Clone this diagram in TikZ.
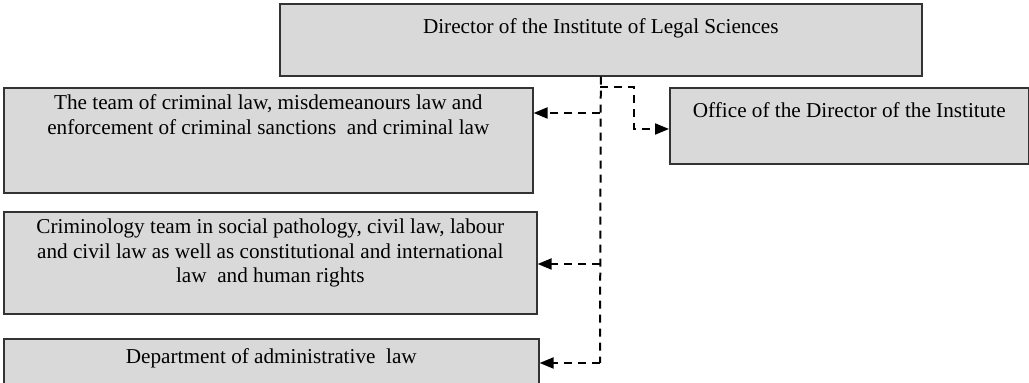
\documentclass[tikz,border=0pt]{standalone}
\usepackage{fontspec}
\setmainfont{Liberation Serif}
\usetikzlibrary{positioning,arrows.meta}
\definecolor{boxgray}{HTML}{D9D9D9}

\tikzset{
  box/.style={draw=black!80, line width=0.8pt, fill=boxgray, inner sep=0pt, anchor=north west},
  txt/.style={align=center, inner sep=0pt, font=\fontsize{10.6}{12.3}\selectfont},
  link/.style={draw, line width=1pt, dash pattern=on 4pt off 3pt},
  arr/.style={link, -{Triangle[length=7pt,width=5.5pt]}}
}

\begin{document}
\begin{tikzpicture}[x=0.5pt, y=-0.5pt]
    \useasboundingbox (0,0) rectangle (1029,383);

    \node[box, minimum width=321pt, minimum height=36pt] (dir) at (279, 3) {};
    \node[box, minimum width=264.5pt, minimum height=52.5pt] (crim) at (3, 87) {};
    \node[box, minimum width=179.5pt, minimum height=38pt] (off) at (669, 87) {};
    \node[box, minimum width=266.5pt, minimum height=51pt] (crim2) at (3, 211) {};
    \node[box, minimum width=267.5pt, minimum height=30pt] (adm) at (3, 338) {};

    \node[txt, below=7.8pt of dir.north] (dirt) {Director of the Institute of Legal Sciences};
    \node[txt, below=3.8pt of crim.north] (crimt) {The team of criminal law, misdemeanours law and\\enforcement of criminal sanctions~ and criminal law};
    \node[txt, below=7.8pt of off.north] (offt) {Office of the Director of the Institute};
    \node[txt, below=3.8pt of crim2.north] (crim2t) {Criminology team in social pathology, civil law, labour\\and civil law as well as constitutional and international\\law~ and human rights};
    \node[txt, below=5.3pt of adm.north] (admt) {Department of administrative~ law};

    \coordinate (j0) at (600, 87);
    \coordinate (j1) at (600, 113);
    \coordinate (j2) at (600, 264);
    \coordinate (j3) at (600, 363);
    \coordinate (k) at (634, 129);

    \draw[link] (dir.south) -- (j3);
    \draw[arr] (j0) -| (k) -- (k -| off.west);
    \draw[arr] (j1) -- (j1 -| crim.east);
    \draw[arr] (j2) -- (j2 -| crim2.east);
    \draw[arr] (j3) -- (j3 -| adm.east);

\end{tikzpicture}
\end{document}
